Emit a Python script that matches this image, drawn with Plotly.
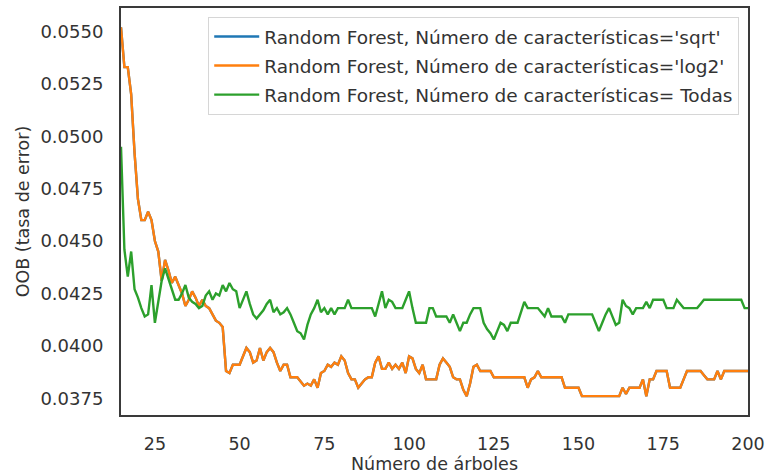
import plotly.graph_objects as go

n_arboles = list(range(15, 201))

oob_sqrt = [
    0.0552, 0.0533, 0.0533, 0.0520, 0.0492, 0.0470, 0.0460, 0.0460, 0.0464, 0.0460,
    0.0450, 0.0445, 0.0431, 0.0441, 0.0436, 0.0430, 0.0433, 0.0429, 0.0425, 0.0419,
    0.0422, 0.0426, 0.0423, 0.0419, 0.0422, 0.0419, 0.0418, 0.0415, 0.0412, 0.0411,
    0.0409, 0.0388, 0.0387, 0.0391, 0.0391, 0.0391, 0.0395, 0.0399, 0.0397, 0.0392,
    0.0393, 0.0399, 0.0393, 0.0397, 0.0399, 0.0397, 0.0392, 0.0388, 0.0391, 0.0391,
    0.0385, 0.0385, 0.0385, 0.0383, 0.0381, 0.0382, 0.0381, 0.0384, 0.0380, 0.0387,
    0.0388, 0.0391, 0.0390, 0.0392, 0.0391, 0.0395, 0.0393, 0.0387, 0.0384, 0.0384,
    0.0380, 0.0382, 0.0384, 0.0385, 0.0385, 0.0392, 0.0395, 0.0389, 0.0389, 0.0392,
    0.0389, 0.0391, 0.0389, 0.0392, 0.0387, 0.0395, 0.0394, 0.0389, 0.0387, 0.0391,
    0.0384, 0.0384, 0.0384, 0.0384, 0.0391, 0.0394, 0.0392, 0.0390, 0.0385, 0.0384,
    0.0384, 0.0379, 0.0376, 0.0382, 0.0390, 0.0391, 0.0388, 0.0388, 0.0388, 0.0388,
    0.0385, 0.0385, 0.0385, 0.0385, 0.0385, 0.0385, 0.0385, 0.0385, 0.0385, 0.0385,
    0.0380, 0.0384, 0.0385, 0.0388, 0.0385, 0.0385, 0.0385, 0.0385, 0.0385, 0.0385,
    0.0385, 0.0380, 0.0380, 0.0380, 0.0380, 0.0380, 0.0376, 0.0376, 0.0376, 0.0376,
    0.0376, 0.0376, 0.0376, 0.0376, 0.0376, 0.0376, 0.0376, 0.0376, 0.0380, 0.0377,
    0.0380, 0.0380, 0.0380, 0.0380, 0.0384, 0.0376, 0.0384, 0.0384, 0.0388, 0.0388,
    0.0388, 0.0388, 0.0380, 0.0380, 0.0380, 0.0380, 0.0384, 0.0388, 0.0388, 0.0388,
    0.0388, 0.0388, 0.0386, 0.0384, 0.0384, 0.0384, 0.0388, 0.0384, 0.0388, 0.0388,
    0.0388, 0.0388, 0.0388, 0.0388, 0.0388, 0.0388,
]

# 'log2' gives exactly the same OOB curve as 'sqrt' (it hides the blue line)
oob_log2 = list(oob_sqrt)

oob_todas = [
    0.0495, 0.0446, 0.0433, 0.0445, 0.0427, 0.0423, 0.0418, 0.0414, 0.0415, 0.0429,
    0.0411, 0.0422, 0.0431, 0.0437, 0.0432, 0.0427, 0.0422, 0.0422, 0.0425, 0.0429,
    0.0423, 0.0421, 0.0420, 0.0418, 0.0419, 0.0424, 0.0426, 0.0422, 0.0425, 0.0424,
    0.0429, 0.0426, 0.0430, 0.0427, 0.0426, 0.0418, 0.0422, 0.0426, 0.0420, 0.0415,
    0.0413, 0.0415, 0.0417, 0.0420, 0.0422, 0.0416, 0.0418, 0.0415, 0.0416, 0.0418,
    0.0415, 0.0411, 0.0407, 0.0406, 0.0403, 0.0410, 0.0415, 0.0418, 0.0422, 0.0416,
    0.0418, 0.0415, 0.0418, 0.0415, 0.0418, 0.0418, 0.0418, 0.0422, 0.0418, 0.0418,
    0.0418, 0.0418, 0.0418, 0.0418, 0.0418, 0.0414, 0.0420, 0.0426, 0.0418, 0.0422,
    0.0421, 0.0418, 0.0418, 0.0418, 0.0422, 0.0426, 0.0418, 0.0411, 0.0411, 0.0411,
    0.0411, 0.0418, 0.0418, 0.0414, 0.0414, 0.0414, 0.0414, 0.0411, 0.0415, 0.0411,
    0.0407, 0.0411, 0.0411, 0.0415, 0.0418, 0.0418, 0.0418, 0.0411, 0.0408, 0.0406,
    0.0403, 0.0407, 0.0411, 0.0410, 0.0407, 0.0411, 0.0411, 0.0411, 0.0416, 0.0421,
    0.0418, 0.0418, 0.0418, 0.0418, 0.0416, 0.0414, 0.0418, 0.0414, 0.0414, 0.0414,
    0.0414, 0.0411, 0.0415, 0.0415, 0.0415, 0.0415, 0.0415, 0.0415, 0.0415, 0.0415,
    0.0411, 0.0407, 0.0411, 0.0415, 0.0418, 0.0414, 0.0410, 0.0411, 0.0422, 0.0419,
    0.0418, 0.0415, 0.0418, 0.0418, 0.0418, 0.0421, 0.0418, 0.0422, 0.0422, 0.0422,
    0.0422, 0.0418, 0.0418, 0.0418, 0.0422, 0.0420, 0.0418, 0.0418, 0.0418, 0.0418,
    0.0418, 0.0420, 0.0422, 0.0422, 0.0422, 0.0422, 0.0422, 0.0422, 0.0422, 0.0422,
    0.0422, 0.0422, 0.0422, 0.0422, 0.0418, 0.0418,
]

series_names = [
    "Random Forest, Número de características='sqrt'",
    "Random Forest, Número de características='log2'",
    "Random Forest, Número de características= Todas",
]
series_values = [oob_sqrt, oob_log2, oob_todas]
series_colors = ["#1f77b4", "#ff7f0e", "#2ca02c"]

x_ticks = [25, 50, 75, 100, 125, 150, 175, 200]
y_ticks = [0.0375, 0.0400, 0.0425, 0.0450, 0.0475, 0.0500, 0.0525, 0.0550]

FONT = "DejaVu Sans"
TXT = "#333333"

fig = go.Figure()
for i, (name, vals, col) in enumerate(zip(series_names, series_values, series_colors)):
    fig.add_trace(go.Scatter(
        x=n_arboles, y=vals, mode="lines", name=name,
        line=dict(color=col, width=2.4), legendgroup=f"g{i}",
    ))

fig.update_layout(
    width=765, height=474,
    margin=dict(l=121, r=17, t=8, b=59),
    paper_bgcolor="white", plot_bgcolor="white",
    font=dict(family=FONT, size=18, color=TXT),
    showlegend=True,
    legend=dict(
        x=0.986, y=0.978, xanchor="right", yanchor="top",
        bgcolor="white", bordercolor="#d6d6d6", borderwidth=1,
        font=dict(family=FONT, size=18.5, color=TXT),
        tracegroupgap=2, itemwidth=45,
    ),
)
fig.update_xaxes(
    range=[15, 200], tickmode="array", tickvals=x_ticks,
    ticktext=[str(v) for v in x_ticks],
    showgrid=False, zeroline=False, showline=True, mirror=True,
    linecolor="#3a3a3a", linewidth=2, ticks="", ticklabelstandoff=12,
    title=dict(text="Número de árboles", font=dict(size=17.5), standoff=9),
    tickfont=dict(size=17.5), automargin=False,
)
fig.update_yaxes(
    range=[0.03670, 0.05612], tickmode="array", tickvals=y_ticks,
    ticktext=[f"{v:.4f}" for v in y_ticks],
    showgrid=False, zeroline=False, showline=True, mirror=True,
    linecolor="#3a3a3a", linewidth=2, ticks="", ticklabelstandoff=12,
    title=dict(text="OOB (tasa de error)", font=dict(size=17.5), standoff=6),
    tickfont=dict(size=18), automargin=False,
)

fig.write_html("out.html")
